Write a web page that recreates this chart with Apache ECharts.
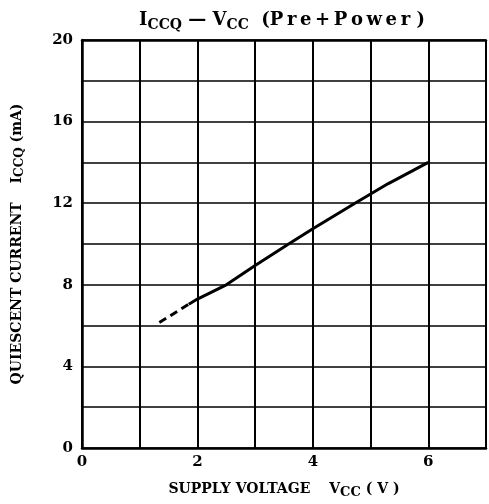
<!DOCTYPE html>
<html><head><meta charset="utf-8">
<script src="https://cdn.jsdelivr.net/npm/echarts@6/dist/echarts.min.js"></script>
<style>html,body{margin:0;padding:0;background:#fff}#c{width:489px;height:504px}</style>
</head><body><div id="c"></div>
<script>
var xTickLabels = ['0', '2', '4', '6'];
var yTickLabels = ['0', '4', '8', '12', '16', '20'];
var solidLine = [[1.85, 7.05], [2.0, 7.3], [2.5, 8.0], [3.0, 8.95], [3.58, 10.0], [4.0, 10.75], [4.73, 12.0], [5.3, 12.95], [6.0, 14.0]];
var dashedLine = [[1.34, 6.15], [1.85, 7.05]];

var F = '"DejaVu Serif", "Liberation Serif", serif';
var SP = '\u2009';
var chart = echarts.init(document.getElementById('c'));
chart.setOption({
  animation: false,
  backgroundColor: '#fff',
  title: {
    text: '{t|I}{s|CCQ}{t| — V}{s|CC}{t|  (' + 'Pre+Power'.split('').join(SP) + ' )}',
    left: 277, top: 4, textAlign: 'center',
    textStyle: {
      rich: {
        t: { fontFamily: F, fontWeight: 'bold', fontSize: 18, color: '#000' },
        s: { fontFamily: F, fontWeight: 'bold', fontSize: 14, color: '#000', padding: [9, 0, 0, 0] }
      }
    }
  },
  grid: { left: 82, top: 40, width: 408, height: 413 },
  xAxis: [{
    type: 'value', min: 0, max: 7, interval: 1,
    name: '{t|SUPPLY VOLTAGE\u2003 V}{s|CC}{t| ( V )}',
    nameLocation: 'middle', nameGap: 31,
    nameTextStyle: { rich: {
      t: { fontFamily: F, fontWeight: 'bold', fontSize: 14, color: '#000' },
      s: { fontFamily: F, fontWeight: 'bold', fontSize: 13, color: '#000', padding: [7, 0, 0, 0] }
    } },
    axisLine: { show: true, lineStyle: { color: '#000', width: 2.5 } },
    axisTick: { show: false },
    axisLabel: {
      fontFamily: F, fontWeight: 'bold', fontSize: 15, color: '#000', margin: 7,
      formatter: function (v) { return xTickLabels.indexOf(String(v)) >= 0 ? String(v) : ''; }
    },
    splitLine: { show: true, lineStyle: { color: '#000', width: 2 } }
  }, {
    type: 'value', min: 0, max: 7, position: 'top',
    axisLine: { show: true, lineStyle: { color: '#000', width: 2.5 } },
    axisTick: { show: false }, axisLabel: { show: false }, splitLine: { show: false }
  }],
  yAxis: {
    type: 'value', min: 0, max: 20, interval: 2,
    name: '{t|QUIESCENT CURRENT\u2003 I}{s|CCQ}{t| (mA)}',
    nameLocation: 'middle', nameGap: 56, nameRotate: 90,
    nameTextStyle: { rich: {
      t: { fontFamily: F, fontWeight: 'bold', fontSize: 14, color: '#000' },
      s: { fontFamily: F, fontWeight: 'bold', fontSize: 12, color: '#000', padding: [6, 0, 0, 0] }
    } },
    axisLine: { show: true, lineStyle: { color: '#000', width: 2.5 } },
    axisTick: { show: false },
    axisLabel: {
      fontFamily: F, fontWeight: 'bold', fontSize: 15, color: '#000', margin: 9,
      formatter: function (v) { return yTickLabels.indexOf(String(v)) >= 0 ? String(v) : ''; }
    },
    splitLine: { show: true, lineStyle: { color: '#000', width: 1.5 } }
  },
  series: [{
    type: 'line', data: solidLine, showSymbol: false, smooth: false,
    lineStyle: { color: '#000', width: 3 }
  }, {
    type: 'line', data: dashedLine, showSymbol: false,
    lineStyle: { color: '#000', width: 3, type: [8, 5] }
  }]
});
</script></body></html>
